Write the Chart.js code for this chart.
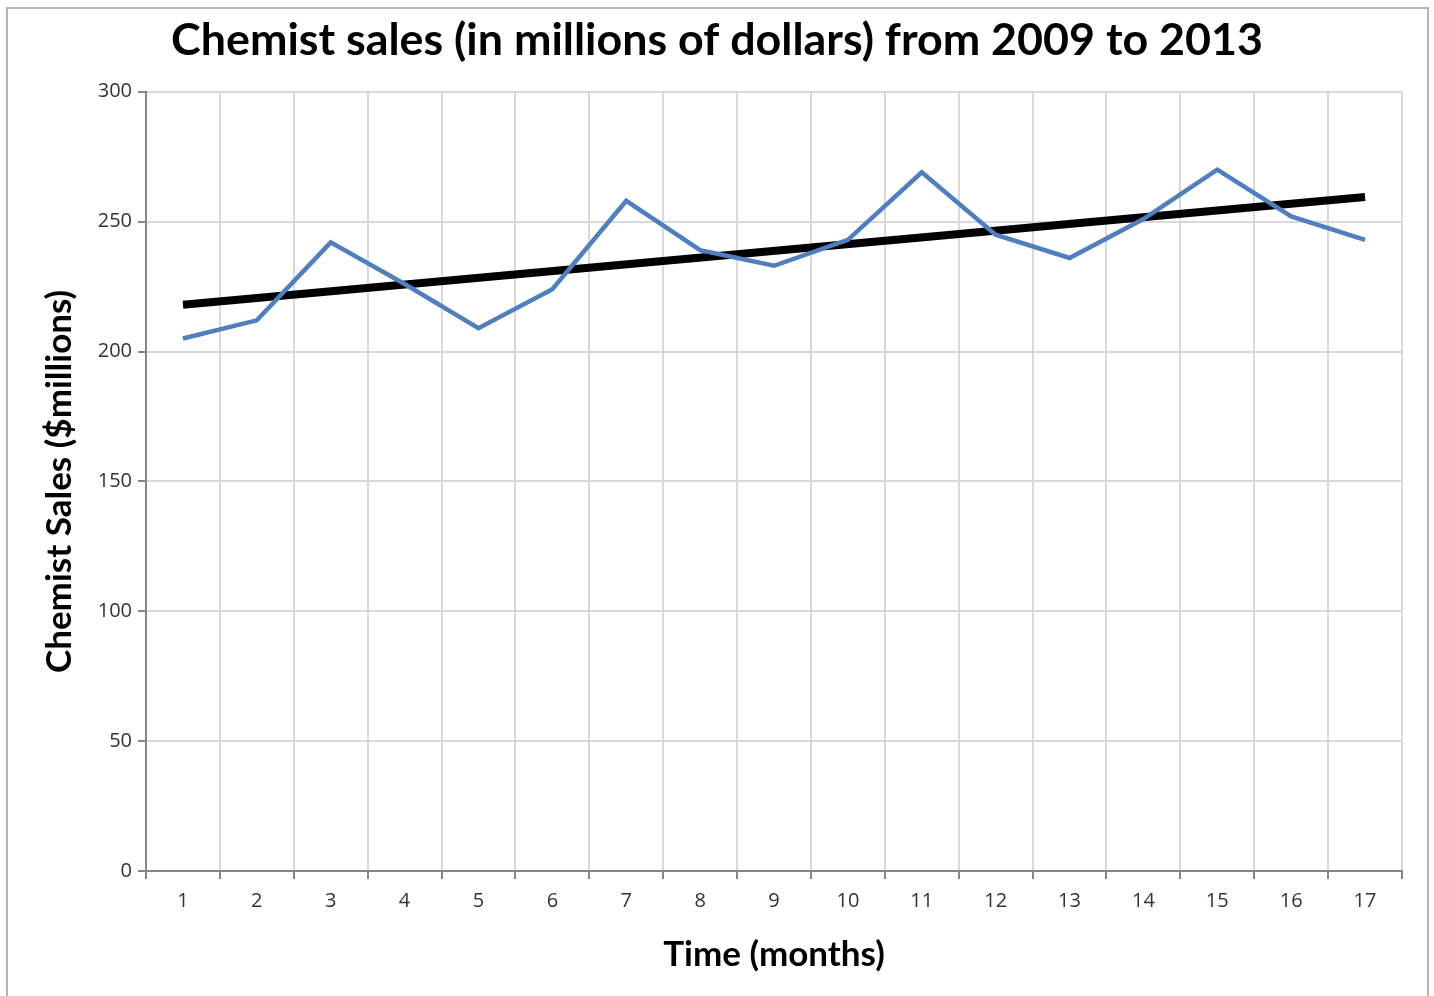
<!DOCTYPE html>
<html>
<head>
<meta charset="utf-8">
<title>Chemist sales</title>
<script src="https://cdn.jsdelivr.net/npm/chart.js@4/dist/chart.umd.min.js"></script>
<style>
  body { margin: 0; background: #fff; }
  #wrap { position: relative; width: 1434px; height: 996px; overflow: hidden; }
  #frame {
    position: absolute; left: 6px; top: 7px; width: 1419px; height: 1000px;
    border: 2px solid #b5b5b5; border-bottom: none; pointer-events: none;
  }
</style>
</head>
<body>
<div id="wrap">
  <canvas id="salesChart" width="1434" height="996"></canvas>
  <div id="frame"></div>
</div>
<script>
// months on the x axis
const months = ["1", "2", "3", "4", "5", "6", "7", "8", "9", "10", "11", "12", "13", "14", "15", "16", "17"];
// chemist sales, $ millions
const sales = [205, 212, 242, 226, 209, 224, 258, 239, 233, 243, 269, 245, 236, 251, 270, 252, 243];
// trend line: only the two end points are drawn, gaps are spanned
const trend = [218, null, null, null, null, null, null, null, null, null, null, null, null, null, null, null, 259.5];
// y axis ticks
const yMin = 0;
const yMax = 300;
const yStep = 50;

const axisColor = "#868686";
const gridColor = "#d9d9d9";

const ctx = document.getElementById("salesChart");

new Chart(ctx, {
  type: "line",
  data: {
    labels: months,
    datasets: [
      {
        label: "Sales",
        data: sales,
        borderColor: "#4f7fbf",
        borderWidth: 4.5,
        pointRadius: 0,
        tension: 0,
        fill: false,
      },
      {
        label: "Trend",
        data: trend,
        borderColor: "#000000",
        borderWidth: 8,
        pointRadius: 0,
        tension: 0,
        spanGaps: true,
        fill: false,
      },
    ],
  },
  options: {
    responsive: false,
    animation: false,
    // same padding both sides so the title stays centred on the page
    layout: { padding: { left: 32, right: 32, top: 0, bottom: 0 } },
    plugins: {
      legend: { display: false },
      tooltip: { enabled: false },
      title: {
        display: true,
        text: "Chemist sales (in millions of dollars) from 2009 to 2013",
        color: "#000",
        font: { family: "Lato", size: 44.8, weight: "bold" },
        padding: { top: 14, bottom: 24 },
      },
    },
    scales: {
      x: {
        offset: true,
        grid: {
          offset: true,
          color: gridColor,
          lineWidth: 2,
          tickColor: axisColor,
          tickLength: 8,
        },
        border: { color: axisColor, width: 2 },
        ticks: {
          color: "#333",
          padding: 10,
          font: { family: "Open Sans", size: 20 },
        },
        title: {
          display: true,
          text: "Time (months)",
          color: "#000",
          font: { family: "Lato", size: 35, weight: "bold" },
          padding: { top: 0, bottom: 20 },
        },
        afterFit: function (scale) {
          scale.height = 125;
        },
      },
      y: {
        min: yMin,
        max: yMax,
        grid: {
          color: gridColor,
          lineWidth: 2,
          tickColor: axisColor,
          tickLength: 8,
        },
        border: { color: axisColor, width: 2 },
        ticks: {
          stepSize: yStep,
          color: "#333",
          padding: 6,
          font: { family: "Open Sans", size: 20 },
        },
        title: {
          display: true,
          text: "Chemist Sales ($millions)",
          color: "#000",
          font: { family: "Lato", size: 35, weight: "bold" },
          padding: { top: 7, bottom: 0 },
        },
        afterFit: function (scale) {
          scale.width = 114;
        },
      },
    },
  },
});
</script>
</body>
</html>
